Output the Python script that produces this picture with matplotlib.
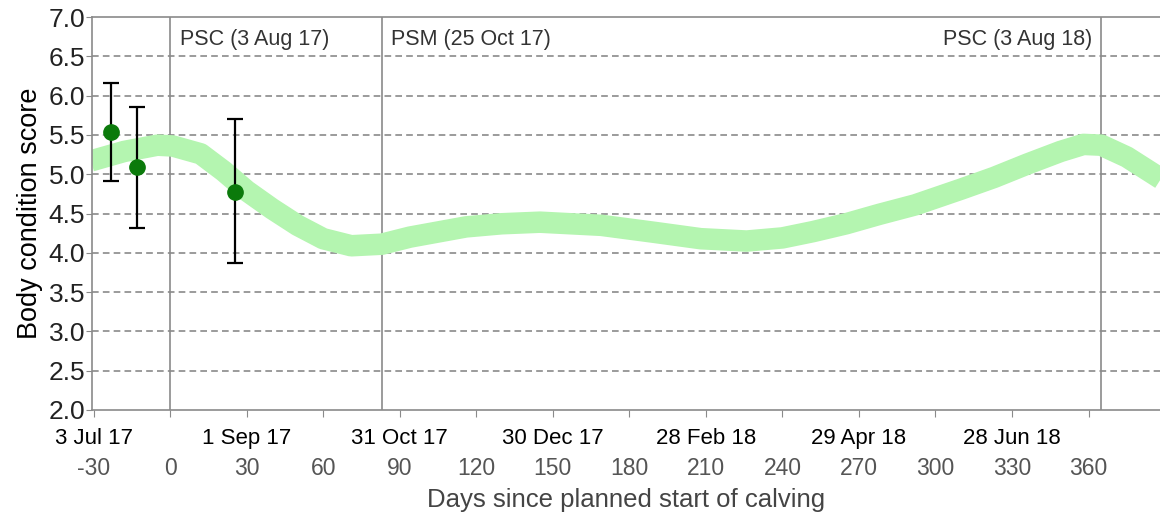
import matplotlib.pyplot as plt
import numpy as np

plt.rcParams['font.family'] = ['Liberation Sans', 'DejaVu Sans']

# target body condition band (centre line)
band_days = [-31, -18, -5, 1, 12, 21, 30, 40, 50, 60, 71, 83, 94, 116, 130,
             145, 169, 190, 208, 226, 240, 252, 265, 278, 292, 310, 323, 336,
             349, 358, 365, 375, 389]
band_bcs = [5.17, 5.29, 5.37, 5.36, 5.26, 5.04, 4.79, 4.56, 4.35, 4.18, 4.09,
            4.11, 4.20, 4.33, 4.37, 4.39, 4.35, 4.26, 4.18, 4.15, 4.19, 4.27,
            4.37, 4.49, 4.61, 4.81, 4.96, 5.13, 5.29, 5.38, 5.37, 5.22, 4.93]

# measured herd BCS with error bars
obs_days = [-23, -13, 25.5]
obs_mean = [5.54, 5.09, 4.77]
obs_low = [4.91, 4.31, 3.87]
obs_high = [6.16, 5.86, 5.70]

# key dates
event_days = [0, 83, 365]
event_labels = ['PSC (3 Aug 17)', 'PSM (25 Oct 17)', 'PSC (3 Aug 18)']

day_ticks = list(range(-30, 361, 30))
date_ticks = [-30, 30, 90, 150, 210, 270, 330]
date_labels = ['3 Jul 17', '1 Sep 17', '31 Oct 17', '30 Dec 17',
               '28 Feb 18', '29 Apr 18', '28 Jun 18']

fig = plt.figure(figsize=(11.6, 5.18), dpi=100)
ax = fig.add_axes([0.0793, 0.2085, 0.9207, 0.7585])

# band
ax.plot(band_days, band_bcs, color='#b4f5b0', lw=15.5, solid_capstyle='butt',
        solid_joinstyle='round', zorder=2)

# grid
for y in np.arange(2.5, 7.0, 0.5):
    ax.axhline(y, color='#8a8a8a', lw=1.2, ls=(0, (4, 2.5)), zorder=1)

for d in event_days:
    ax.axvline(d, color='#8a8a8a', lw=1.2, zorder=1)

ax.text(event_days[0] + 4, 6.72, event_labels[0], fontsize=15.5, color='#333333', va='center', ha='left')
ax.text(event_days[1] + 3.5, 6.72, event_labels[1], fontsize=15.5, color='#333333', va='center', ha='left')
ax.text(event_days[2] - 3.5, 6.72, event_labels[2], fontsize=15.5, color='#333333', va='center', ha='right')

yerr = [np.array(obs_mean) - np.array(obs_low), np.array(obs_high) - np.array(obs_mean)]
ax.errorbar(obs_days, obs_mean, yerr=yerr, fmt='o', color='#0b7a0b', ms=11,
            ecolor='black', elinewidth=1.6, capsize=6, capthick=1.6, zorder=4)

ax.set_xlim(-30.6, 388)
ax.set_ylim(2.0, 7.0)
ax.set_yticks(np.arange(2.0, 7.01, 0.5))
ax.set_yticklabels([f'{v:.1f}' for v in np.arange(2.0, 7.01, 0.5)], fontsize=19, color='#222222')
ax.set_ylabel('Body condition score', fontsize=19.5, labelpad=4)

ax.set_xticks(day_ticks)
ax.set_xticklabels([str(d) for d in day_ticks], fontsize=16.5, color='#555555')
ax.tick_params(axis='x', length=5, color='#8a8a8a', pad=28.5)
ax.tick_params(axis='y', length=4, color='#8a8a8a', pad=1)
ax.set_xlabel('Days since planned start of calving', fontsize=18.5, color='#444444', labelpad=6)

sec = ax.secondary_xaxis('bottom')
sec.set_xticks(date_ticks)
sec.set_xticklabels(date_labels, fontsize=16, color='black')
sec.tick_params(length=0, pad=13)
sec.spines['bottom'].set_visible(False)

for s in ['top', 'left', 'bottom']:
    ax.spines[s].set_color('#8a8a8a')
    ax.spines[s].set_linewidth(1.2)
ax.spines['right'].set_visible(False)

fig.savefig('out.png', dpi=100)
